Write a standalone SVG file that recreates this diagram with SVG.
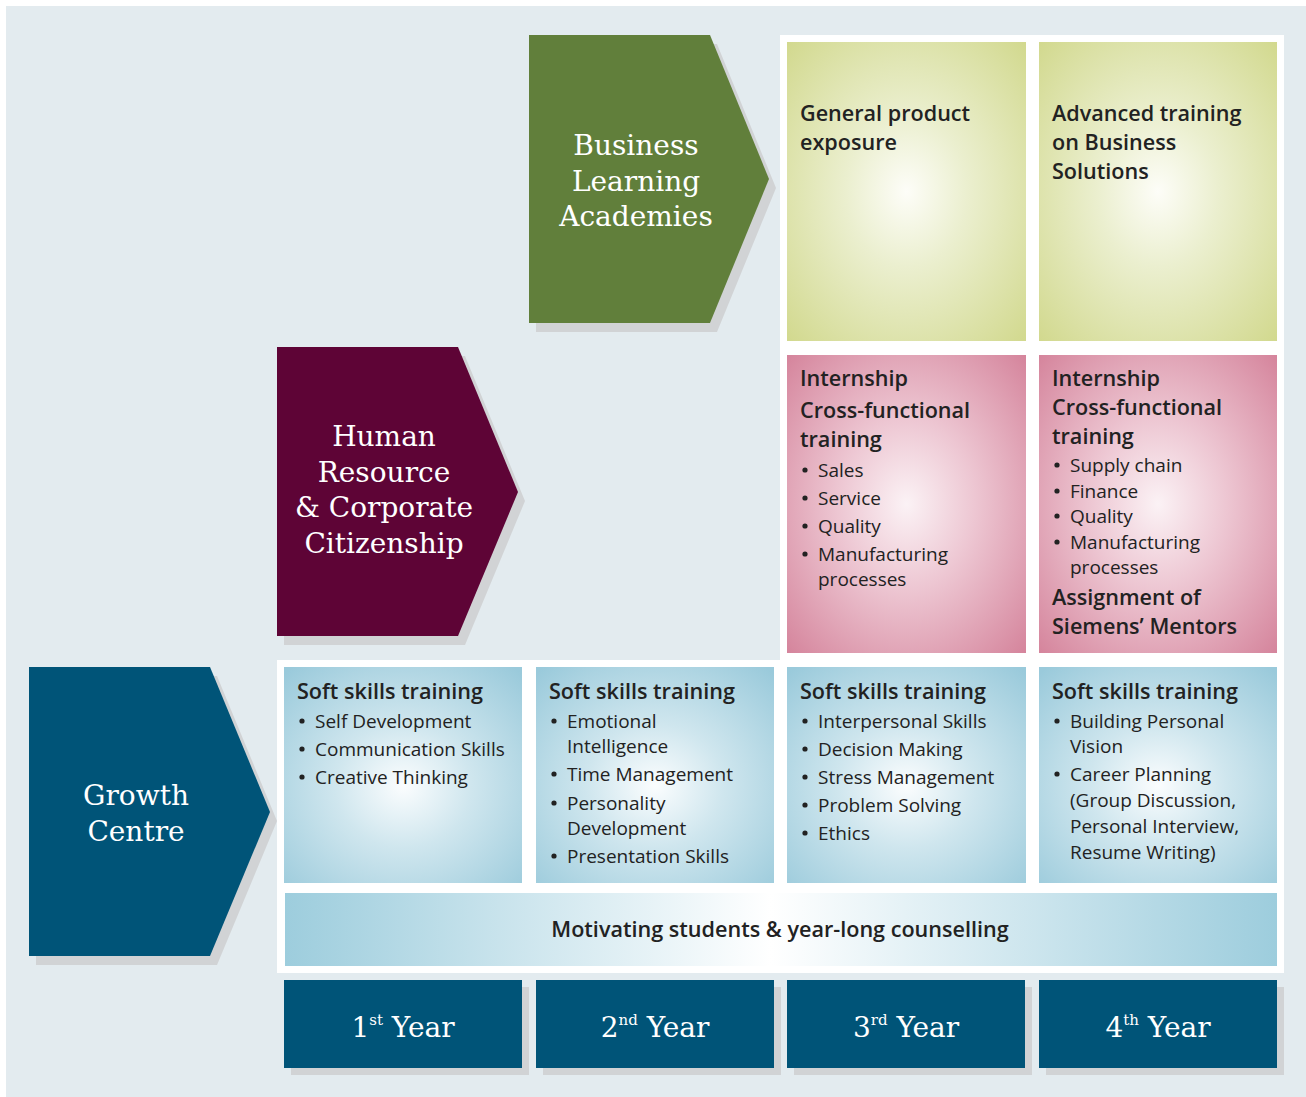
<svg xmlns="http://www.w3.org/2000/svg" width="1306" height="1097" viewBox="0 0 1306 1097">
<defs>
<radialGradient id="gGreen" cx="0.5" cy="0.5" r="0.72">
<stop offset="0" stop-color="#fdfdf8"/>
<stop offset="0.35" stop-color="#ebefcf"/>
<stop offset="1" stop-color="#d1d88c"/>
</radialGradient>
<radialGradient id="gPink" cx="0.5" cy="0.5" r="0.72">
<stop offset="0" stop-color="#fbf2f5"/>
<stop offset="0.4" stop-color="#edc6d2"/>
<stop offset="1" stop-color="#d4829a"/>
</radialGradient>
<radialGradient id="gBlue" cx="0.5" cy="0.55" r="0.72">
<stop offset="0" stop-color="#fbfdfe"/>
<stop offset="0.4" stop-color="#cfe6ee"/>
<stop offset="1" stop-color="#9acadb"/>
</radialGradient>
<linearGradient id="gBar" x1="0" y1="0" x2="1" y2="0">
<stop offset="0" stop-color="#9dcddd"/>
<stop offset="0.49" stop-color="#ffffff"/>
<stop offset="1" stop-color="#9dcddd"/>
</linearGradient>
<style>
.serif{font-family:"DejaVu Serif","Liberation Serif",serif;fill:#ffffff;font-size:28px;text-anchor:middle}
.h{font-family:"Open Sans","Noto Sans","Liberation Sans",sans-serif;font-weight:600;font-size:21.6px;fill:#222222}
.t{font-family:"Open Sans","Noto Sans","Liberation Sans",sans-serif;font-size:19px;fill:#222222}
.dot{fill:#222222}
.shadow{fill:#d1d3d5}
.yr{fill:#005478}
</style>
</defs>
<rect x="0" y="0" width="1306" height="1097" fill="#ffffff"/>
<rect x="6" y="6" width="1300" height="1091" fill="#e3ebef"/>
<path d="M780 35 H1284 V973 H277 V660 H780 Z" fill="#ffffff"/>

<g id="node-bla">
<polygon class="shadow" points="536,44 717,44 776,188 717,332 536,332"/>
<polygon fill="#617f3b" points="529,35 710,35 769,179 710,323 529,323"/>
<text class="serif" x="636" y="155">Business</text>
<text class="serif" x="636" y="191">Learning</text>
<text class="serif" x="636" y="226">Academies</text>
</g>

<g id="node-hr">
<polygon class="shadow" points="284,356 465,356 525,501 465,645 284,645"/>
<polygon fill="#5e0436" points="277,347 458,347 518,492 458,636 277,636"/>
<text class="serif" x="384" y="446">Human</text>
<text class="serif" x="384" y="482">Resource</text>
<text class="serif" x="384" y="517">&amp; Corporate</text>
<text class="serif" x="384" y="553">Citizenship</text>
</g>

<g id="node-gc">
<polygon class="shadow" points="36,676 217,676 277,821 217,965 36,965"/>
<polygon fill="#005478" points="29,667 210,667 270,812 210,956 29,956"/>
<text class="serif" x="136" y="805">Growth</text>
<text class="serif" x="136" y="841">Centre</text>
</g>

<g id="node-g3">
<rect x="787" y="42" width="239" height="299" fill="url(#gGreen)"/>
<text class="h" x="800" y="121">General product</text>
<text class="h" x="800" y="150">exposure</text>
</g>
<g id="node-g4">
<rect x="1039" y="42" width="238" height="299" fill="url(#gGreen)"/>
<text class="h" x="1052" y="121">Advanced training</text>
<text class="h" x="1052" y="150">on Business</text>
<text class="h" x="1052" y="179">Solutions</text>
</g>

<g id="node-p3">
<rect x="787" y="355" width="239" height="298" fill="url(#gPink)"/>
<text class="h" x="800" y="386">Internship</text>
<text class="h" x="800" y="418">Cross-functional</text>
<text class="h" x="800" y="447">training</text>
<circle class="dot" cx="805" cy="470" r="2.6"/>
<circle class="dot" cx="805" cy="498" r="2.6"/>
<circle class="dot" cx="805" cy="526" r="2.6"/>
<circle class="dot" cx="805" cy="554" r="2.6"/>
<text class="t" x="818" y="477">Sales</text>
<text class="t" x="818" y="505">Service</text>
<text class="t" x="818" y="533">Quality</text>
<text class="t" x="818" y="561">Manufacturing</text>
<text class="t" x="818" y="586">processes</text>
</g>
<g id="node-p4">
<rect x="1039" y="355" width="238" height="298" fill="url(#gPink)"/>
<text class="h" x="1052" y="386">Internship</text>
<text class="h" x="1052" y="415">Cross-functional</text>
<text class="h" x="1052" y="444">training</text>
<circle class="dot" cx="1057" cy="465" r="2.6"/>
<circle class="dot" cx="1057" cy="491" r="2.6"/>
<circle class="dot" cx="1057" cy="516" r="2.6"/>
<circle class="dot" cx="1057" cy="542" r="2.6"/>
<text class="t" x="1070" y="472">Supply chain</text>
<text class="t" x="1070" y="498">Finance</text>
<text class="t" x="1070" y="523">Quality</text>
<text class="t" x="1070" y="549">Manufacturing</text>
<text class="t" x="1070" y="574">processes</text>
<text class="h" x="1052" y="605">Assignment of</text>
<text class="h" x="1052" y="634">Siemens’ Mentors</text>
</g>

<g id="node-s1">
<rect x="284" y="667" width="238" height="216" fill="url(#gBlue)"/>
<text class="h" x="297" y="699">Soft skills training</text>
<circle class="dot" cx="302" cy="721" r="2.6"/>
<circle class="dot" cx="302" cy="749" r="2.6"/>
<circle class="dot" cx="302" cy="777" r="2.6"/>
<text class="t" x="315" y="728">Self Development</text>
<text class="t" x="315" y="756">Communication Skills</text>
<text class="t" x="315" y="784">Creative Thinking</text>
</g>
<g id="node-s2">
<rect x="536" y="667" width="238" height="216" fill="url(#gBlue)"/>
<text class="h" x="549" y="699">Soft skills training</text>
<circle class="dot" cx="554" cy="721" r="2.6"/>
<circle class="dot" cx="554" cy="774" r="2.6"/>
<circle class="dot" cx="554" cy="803" r="2.6"/>
<circle class="dot" cx="554" cy="856" r="2.6"/>
<text class="t" x="567" y="728">Emotional</text>
<text class="t" x="567" y="753">Intelligence</text>
<text class="t" x="567" y="781">Time Management</text>
<text class="t" x="567" y="810">Personality</text>
<text class="t" x="567" y="835">Development</text>
<text class="t" x="567" y="863">Presentation Skills</text>
</g>
<g id="node-s3">
<rect x="787" y="667" width="239" height="216" fill="url(#gBlue)"/>
<text class="h" x="800" y="699">Soft skills training</text>
<circle class="dot" cx="805" cy="721" r="2.6"/>
<circle class="dot" cx="805" cy="749" r="2.6"/>
<circle class="dot" cx="805" cy="777" r="2.6"/>
<circle class="dot" cx="805" cy="805" r="2.6"/>
<circle class="dot" cx="805" cy="833" r="2.6"/>
<text class="t" x="818" y="728">Interpersonal Skills</text>
<text class="t" x="818" y="756">Decision Making</text>
<text class="t" x="818" y="784">Stress Management</text>
<text class="t" x="818" y="812">Problem Solving</text>
<text class="t" x="818" y="840">Ethics</text>
</g>
<g id="node-s4">
<rect x="1039" y="667" width="238" height="216" fill="url(#gBlue)"/>
<text class="h" x="1052" y="699">Soft skills training</text>
<circle class="dot" cx="1057" cy="721" r="2.6"/>
<circle class="dot" cx="1057" cy="774" r="2.6"/>
<text class="t" x="1070" y="728">Building Personal</text>
<text class="t" x="1070" y="753">Vision</text>
<text class="t" x="1070" y="781">Career Planning</text>
<text class="t" x="1070" y="807">(Group Discussion,</text>
<text class="t" x="1070" y="833">Personal Interview,</text>
<text class="t" x="1070" y="859">Resume Writing)</text>
</g>

<g id="node-counselling">
<rect x="285" y="893" width="992" height="73" fill="url(#gBar)"/>
<text class="h" x="780" y="937" text-anchor="middle" style="font-size:21.6px">Motivating students &amp; year-long counselling</text>
</g>

<g id="node-y1">
<rect class="shadow" x="291" y="987" width="238" height="88"/>
<rect class="yr" x="284" y="980" width="238" height="88"/>
<text class="serif" x="403" y="1037">1<tspan dy="-12" style="font-size:15px">st</tspan><tspan dy="12"> Year</tspan></text>
</g>
<g id="node-y2">
<rect class="shadow" x="543" y="987" width="238" height="88"/>
<rect class="yr" x="536" y="980" width="238" height="88"/>
<text class="serif" x="655" y="1037">2<tspan dy="-12" style="font-size:15px">nd</tspan><tspan dy="12"> Year</tspan></text>
</g>
<g id="node-y3">
<rect class="shadow" x="794" y="987" width="238" height="88"/>
<rect class="yr" x="787" y="980" width="238" height="88"/>
<text class="serif" x="906" y="1037">3<tspan dy="-12" style="font-size:15px">rd</tspan><tspan dy="12"> Year</tspan></text>
</g>
<g id="node-y4">
<rect class="shadow" x="1046" y="987" width="238" height="88"/>
<rect class="yr" x="1039" y="980" width="238" height="88"/>
<text class="serif" x="1158" y="1037">4<tspan dy="-12" style="font-size:15px">th</tspan><tspan dy="12"> Year</tspan></text>
</g>

<g id="connectors"></g>
</svg>
